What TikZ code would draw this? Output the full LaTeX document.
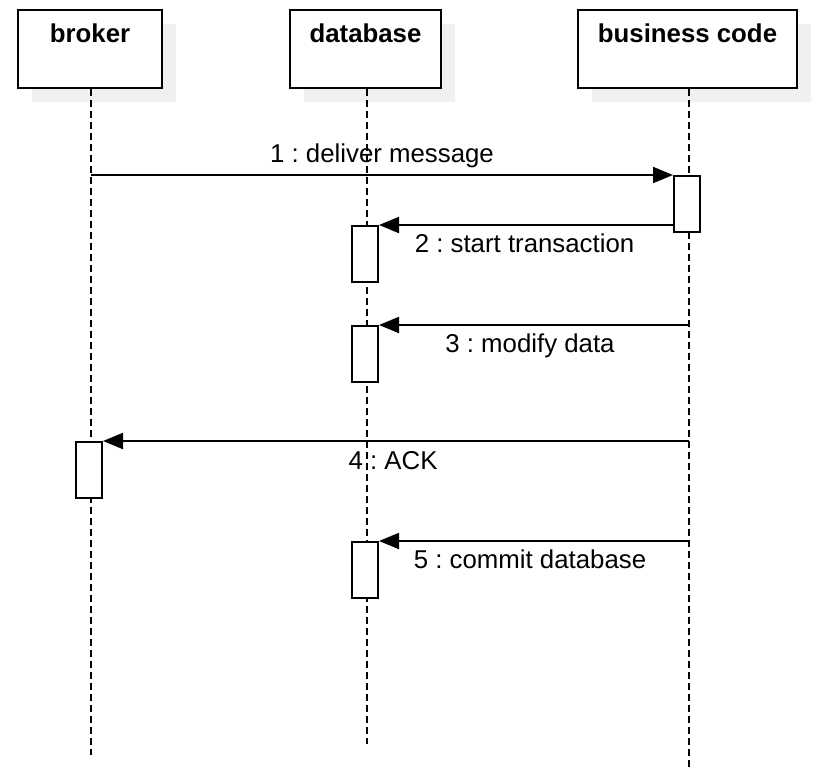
\documentclass[tikz,border=0pt]{standalone}
\usepackage{fontspec}
\setmainfont{Liberation Sans}
\frenchspacing
\usetikzlibrary{arrows.meta}
\usetikzlibrary{shadows}
\newcommand{\diagramfont}{\fontsize{25.8}{30}\selectfont}
\tikzstyle{head}=[draw, line width=2pt, fill=white, inner xsep=0, inner ysep=0,
                  text height=33pt, text depth=45pt, font=\diagramfont\bfseries,
                  general shadow={fill=black!6, shadow xshift=14pt, shadow yshift=-14pt}]
\tikzstyle{act}=[draw, line width=2pt, fill=white, inner sep=0, minimum width=26pt, minimum height=56pt]
\tikzstyle{lifeline}=[line width=2pt, dash pattern=on 7pt off 4pt]
\tikzstyle{msg}=[line width=2pt, -{Triangle[length=20pt, width=16pt]}]
\tikzstyle{msglabel}=[anchor=base, inner sep=0]

\begin{document}
\begin{tikzpicture}[x=1pt, y=-1pt, font=\diagramfont]
        \useasboundingbox (0, 0) rectangle (826, 768);
        % participants
        \node[head, minimum width=144pt] (broker) at (90, 49) {broker};
        \node[head, minimum width=151pt] (database) at (365.5, 49) {database};
        \node[head, minimum width=219pt] (business) at (687.5, 49) {business code};
        \coordinate (brokerend) at (91, 755);
        \coordinate (databaseend) at (367, 744);
        \coordinate (businessend) at (689, 768);
        \draw[lifeline] (broker.south -| brokerend) -- (brokerend);
        \draw[lifeline] (database.south -| databaseend) -- (databaseend);
        \draw[lifeline] (business.south -| businessend) -- (businessend);
        % activations
        \node[act] (business1) at (687, 204) {};
        \node[act] (database1) at (365, 254) {};
        \node[act] (database2) at (365, 354) {};
        \node[act] (broker1) at (89, 470) {};
        \node[act] (database3) at (365, 570) {};
        % messages
        \draw[msg] (brokerend |- business1.north) -- (business1.north west)
            node[msglabel, pos=0.5, yshift=13pt] {1 : deliver message};
        \draw[msg] (business1.north west |- database1.north) -- (database1.north east)
            node[msglabel, pos=0.505, yshift=-27pt] {2 : start transaction};
        \draw[msg] (businessend |- database2.north) -- (database2.north east)
            node[msglabel, pos=0.513, yshift=-27pt] {3 : modify data};
        \draw[msg] (businessend |- broker1.north) -- (broker1.north east)
            node[msglabel, pos=0.505, yshift=-28pt] {4 : ACK};
        \draw[msg] (businessend |- database3.north) -- (database3.north east)
            node[msglabel, pos=0.513, yshift=-27pt] {5 : commit database};
    \end{tikzpicture}
\end{document}
